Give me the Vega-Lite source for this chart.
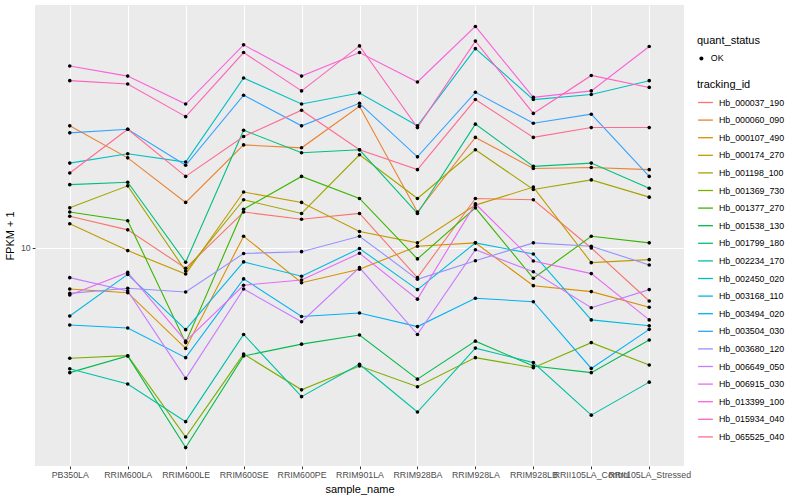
{
  "$schema": "https://vega.github.io/schema/vega-lite/v6.json",
  "width": 649,
  "height": 461,
  "autosize": {"type": "none"},
  "padding": {"left": 35, "top": 5, "right": 116, "bottom": 34},
  "background": "white",
  "data": {"values": [
    {"tracking_id":"Hb_000037_190","sample_name":"PB350LA","FPKM":12.0,"quant_status":"OK"},
    {"tracking_id":"Hb_000037_190","sample_name":"RRIM600LA","FPKM":11.1,"quant_status":"OK"},
    {"tracking_id":"Hb_000037_190","sample_name":"RRIM600LE","FPKM":8.90,"quant_status":"OK"},
    {"tracking_id":"Hb_000037_190","sample_name":"RRIM600SE","FPKM":12.3,"quant_status":"OK"},
    {"tracking_id":"Hb_000037_190","sample_name":"RRIM600PE","FPKM":11.8,"quant_status":"OK"},
    {"tracking_id":"Hb_000037_190","sample_name":"RRIM901LA","FPKM":12.2,"quant_status":"OK"},
    {"tracking_id":"Hb_000037_190","sample_name":"RRIM928BA","FPKM":8.43,"quant_status":"OK"},
    {"tracking_id":"Hb_000037_190","sample_name":"RRIM928LA","FPKM":13.3,"quant_status":"OK"},
    {"tracking_id":"Hb_000037_190","sample_name":"RRIM928LB","FPKM":13.2,"quant_status":"OK"},
    {"tracking_id":"Hb_000037_190","sample_name":"RRII105LA_Control","FPKM":10.0,"quant_status":"OK"},
    {"tracking_id":"Hb_000037_190","sample_name":"RRII105LA_Stressed","FPKM":7.37,"quant_status":"OK"},
    {"tracking_id":"Hb_000060_090","sample_name":"PB350LA","FPKM":20.2,"quant_status":"OK"},
    {"tracking_id":"Hb_000060_090","sample_name":"RRIM600LA","FPKM":16.8,"quant_status":"OK"},
    {"tracking_id":"Hb_000060_090","sample_name":"RRIM600LE","FPKM":13.0,"quant_status":"OK"},
    {"tracking_id":"Hb_000060_090","sample_name":"RRIM600SE","FPKM":18.1,"quant_status":"OK"},
    {"tracking_id":"Hb_000060_090","sample_name":"RRIM600PE","FPKM":17.8,"quant_status":"OK"},
    {"tracking_id":"Hb_000060_090","sample_name":"RRIM901LA","FPKM":22.6,"quant_status":"OK"},
    {"tracking_id":"Hb_000060_090","sample_name":"RRIM928BA","FPKM":12.3,"quant_status":"OK"},
    {"tracking_id":"Hb_000060_090","sample_name":"RRIM928LA","FPKM":18.9,"quant_status":"OK"},
    {"tracking_id":"Hb_000060_090","sample_name":"RRIM928LB","FPKM":15.8,"quant_status":"OK"},
    {"tracking_id":"Hb_000060_090","sample_name":"RRII105LA_Control","FPKM":15.9,"quant_status":"OK"},
    {"tracking_id":"Hb_000060_090","sample_name":"RRII105LA_Stressed","FPKM":15.7,"quant_status":"OK"},
    {"tracking_id":"Hb_000107_490","sample_name":"PB350LA","FPKM":7.90,"quant_status":"OK"},
    {"tracking_id":"Hb_000107_490","sample_name":"RRIM600LA","FPKM":7.73,"quant_status":"OK"},
    {"tracking_id":"Hb_000107_490","sample_name":"RRIM600LE","FPKM":5.61,"quant_status":"OK"},
    {"tracking_id":"Hb_000107_490","sample_name":"RRIM600SE","FPKM":10.7,"quant_status":"OK"},
    {"tracking_id":"Hb_000107_490","sample_name":"RRIM600PE","FPKM":8.19,"quant_status":"OK"},
    {"tracking_id":"Hb_000107_490","sample_name":"RRIM901LA","FPKM":8.85,"quant_status":"OK"},
    {"tracking_id":"Hb_000107_490","sample_name":"RRIM928BA","FPKM":10.1,"quant_status":"OK"},
    {"tracking_id":"Hb_000107_490","sample_name":"RRIM928LA","FPKM":10.3,"quant_status":"OK"},
    {"tracking_id":"Hb_000107_490","sample_name":"RRIM928LB","FPKM":8.05,"quant_status":"OK"},
    {"tracking_id":"Hb_000107_490","sample_name":"RRII105LA_Control","FPKM":7.78,"quant_status":"OK"},
    {"tracking_id":"Hb_000107_490","sample_name":"RRII105LA_Stressed","FPKM":7.11,"quant_status":"OK"},
    {"tracking_id":"Hb_000174_270","sample_name":"PB350LA","FPKM":11.5,"quant_status":"OK"},
    {"tracking_id":"Hb_000174_270","sample_name":"RRIM600LA","FPKM":9.85,"quant_status":"OK"},
    {"tracking_id":"Hb_000174_270","sample_name":"RRIM600LE","FPKM":8.61,"quant_status":"OK"},
    {"tracking_id":"Hb_000174_270","sample_name":"RRIM600SE","FPKM":13.8,"quant_status":"OK"},
    {"tracking_id":"Hb_000174_270","sample_name":"RRIM600PE","FPKM":13.0,"quant_status":"OK"},
    {"tracking_id":"Hb_000174_270","sample_name":"RRIM901LA","FPKM":11.0,"quant_status":"OK"},
    {"tracking_id":"Hb_000174_270","sample_name":"RRIM928BA","FPKM":10.3,"quant_status":"OK"},
    {"tracking_id":"Hb_000174_270","sample_name":"RRIM928LA","FPKM":12.8,"quant_status":"OK"},
    {"tracking_id":"Hb_000174_270","sample_name":"RRIM928LB","FPKM":14.2,"quant_status":"OK"},
    {"tracking_id":"Hb_000174_270","sample_name":"RRII105LA_Control","FPKM":9.19,"quant_status":"OK"},
    {"tracking_id":"Hb_000174_270","sample_name":"RRII105LA_Stressed","FPKM":9.35,"quant_status":"OK"},
    {"tracking_id":"Hb_001198_100","sample_name":"PB350LA","FPKM":12.6,"quant_status":"OK"},
    {"tracking_id":"Hb_001198_100","sample_name":"RRIM600LA","FPKM":14.3,"quant_status":"OK"},
    {"tracking_id":"Hb_001198_100","sample_name":"RRIM600LE","FPKM":8.76,"quant_status":"OK"},
    {"tracking_id":"Hb_001198_100","sample_name":"RRIM600SE","FPKM":13.2,"quant_status":"OK"},
    {"tracking_id":"Hb_001198_100","sample_name":"RRIM600PE","FPKM":12.2,"quant_status":"OK"},
    {"tracking_id":"Hb_001198_100","sample_name":"RRIM901LA","FPKM":17.1,"quant_status":"OK"},
    {"tracking_id":"Hb_001198_100","sample_name":"RRIM928BA","FPKM":13.3,"quant_status":"OK"},
    {"tracking_id":"Hb_001198_100","sample_name":"RRIM928LA","FPKM":17.6,"quant_status":"OK"},
    {"tracking_id":"Hb_001198_100","sample_name":"RRIM928LB","FPKM":14.0,"quant_status":"OK"},
    {"tracking_id":"Hb_001198_100","sample_name":"RRII105LA_Control","FPKM":14.8,"quant_status":"OK"},
    {"tracking_id":"Hb_001198_100","sample_name":"RRII105LA_Stressed","FPKM":13.4,"quant_status":"OK"},
    {"tracking_id":"Hb_001369_730","sample_name":"PB350LA","FPKM":5.30,"quant_status":"OK"},
    {"tracking_id":"Hb_001369_730","sample_name":"RRIM600LA","FPKM":5.38,"quant_status":"OK"},
    {"tracking_id":"Hb_001369_730","sample_name":"RRIM600LE","FPKM":3.37,"quant_status":"OK"},
    {"tracking_id":"Hb_001369_730","sample_name":"RRIM600SE","FPKM":5.43,"quant_status":"OK"},
    {"tracking_id":"Hb_001369_730","sample_name":"RRIM600PE","FPKM":4.42,"quant_status":"OK"},
    {"tracking_id":"Hb_001369_730","sample_name":"RRIM901LA","FPKM":5.07,"quant_status":"OK"},
    {"tracking_id":"Hb_001369_730","sample_name":"RRIM928BA","FPKM":4.50,"quant_status":"OK"},
    {"tracking_id":"Hb_001369_730","sample_name":"RRIM928LA","FPKM":5.32,"quant_status":"OK"},
    {"tracking_id":"Hb_001369_730","sample_name":"RRIM928LB","FPKM":5.02,"quant_status":"OK"},
    {"tracking_id":"Hb_001369_730","sample_name":"RRII105LA_Control","FPKM":5.80,"quant_status":"OK"},
    {"tracking_id":"Hb_001369_730","sample_name":"RRII105LA_Stressed","FPKM":5.10,"quant_status":"OK"},
    {"tracking_id":"Hb_001377_270","sample_name":"PB350LA","FPKM":12.3,"quant_status":"OK"},
    {"tracking_id":"Hb_001377_270","sample_name":"RRIM600LA","FPKM":11.7,"quant_status":"OK"},
    {"tracking_id":"Hb_001377_270","sample_name":"RRIM600LE","FPKM":5.80,"quant_status":"OK"},
    {"tracking_id":"Hb_001377_270","sample_name":"RRIM600SE","FPKM":12.5,"quant_status":"OK"},
    {"tracking_id":"Hb_001377_270","sample_name":"RRIM600PE","FPKM":15.1,"quant_status":"OK"},
    {"tracking_id":"Hb_001377_270","sample_name":"RRIM901LA","FPKM":13.3,"quant_status":"OK"},
    {"tracking_id":"Hb_001377_270","sample_name":"RRIM928BA","FPKM":9.39,"quant_status":"OK"},
    {"tracking_id":"Hb_001377_270","sample_name":"RRIM928LA","FPKM":12.6,"quant_status":"OK"},
    {"tracking_id":"Hb_001377_270","sample_name":"RRIM928LB","FPKM":8.40,"quant_status":"OK"},
    {"tracking_id":"Hb_001377_270","sample_name":"RRII105LA_Control","FPKM":10.7,"quant_status":"OK"},
    {"tracking_id":"Hb_001377_270","sample_name":"RRII105LA_Stressed","FPKM":10.3,"quant_status":"OK"},
    {"tracking_id":"Hb_001538_130","sample_name":"PB350LA","FPKM":4.88,"quant_status":"OK"},
    {"tracking_id":"Hb_001538_130","sample_name":"RRIM600LA","FPKM":5.37,"quant_status":"OK"},
    {"tracking_id":"Hb_001538_130","sample_name":"RRIM600LE","FPKM":3.17,"quant_status":"OK"},
    {"tracking_id":"Hb_001538_130","sample_name":"RRIM600SE","FPKM":5.37,"quant_status":"OK"},
    {"tracking_id":"Hb_001538_130","sample_name":"RRIM600PE","FPKM":5.75,"quant_status":"OK"},
    {"tracking_id":"Hb_001538_130","sample_name":"RRIM901LA","FPKM":6.06,"quant_status":"OK"},
    {"tracking_id":"Hb_001538_130","sample_name":"RRIM928BA","FPKM":4.70,"quant_status":"OK"},
    {"tracking_id":"Hb_001538_130","sample_name":"RRIM928LA","FPKM":5.85,"quant_status":"OK"},
    {"tracking_id":"Hb_001538_130","sample_name":"RRIM928LB","FPKM":5.07,"quant_status":"OK"},
    {"tracking_id":"Hb_001538_130","sample_name":"RRII105LA_Control","FPKM":4.88,"quant_status":"OK"},
    {"tracking_id":"Hb_001538_130","sample_name":"RRII105LA_Stressed","FPKM":5.89,"quant_status":"OK"},
    {"tracking_id":"Hb_001799_180","sample_name":"PB350LA","FPKM":14.4,"quant_status":"OK"},
    {"tracking_id":"Hb_001799_180","sample_name":"RRIM600LA","FPKM":14.6,"quant_status":"OK"},
    {"tracking_id":"Hb_001799_180","sample_name":"RRIM600LE","FPKM":9.21,"quant_status":"OK"},
    {"tracking_id":"Hb_001799_180","sample_name":"RRIM600SE","FPKM":19.7,"quant_status":"OK"},
    {"tracking_id":"Hb_001799_180","sample_name":"RRIM600PE","FPKM":17.3,"quant_status":"OK"},
    {"tracking_id":"Hb_001799_180","sample_name":"RRIM901LA","FPKM":17.6,"quant_status":"OK"},
    {"tracking_id":"Hb_001799_180","sample_name":"RRIM928BA","FPKM":12.2,"quant_status":"OK"},
    {"tracking_id":"Hb_001799_180","sample_name":"RRIM928LA","FPKM":20.4,"quant_status":"OK"},
    {"tracking_id":"Hb_001799_180","sample_name":"RRIM928LB","FPKM":16.0,"quant_status":"OK"},
    {"tracking_id":"Hb_001799_180","sample_name":"RRII105LA_Control","FPKM":16.3,"quant_status":"OK"},
    {"tracking_id":"Hb_001799_180","sample_name":"RRII105LA_Stressed","FPKM":14.1,"quant_status":"OK"},
    {"tracking_id":"Hb_002234_170","sample_name":"PB350LA","FPKM":4.99,"quant_status":"OK"},
    {"tracking_id":"Hb_002234_170","sample_name":"RRIM600LA","FPKM":4.57,"quant_status":"OK"},
    {"tracking_id":"Hb_002234_170","sample_name":"RRIM600LE","FPKM":3.68,"quant_status":"OK"},
    {"tracking_id":"Hb_002234_170","sample_name":"RRIM600SE","FPKM":6.08,"quant_status":"OK"},
    {"tracking_id":"Hb_002234_170","sample_name":"RRIM600PE","FPKM":4.25,"quant_status":"OK"},
    {"tracking_id":"Hb_002234_170","sample_name":"RRIM901LA","FPKM":5.12,"quant_status":"OK"},
    {"tracking_id":"Hb_002234_170","sample_name":"RRIM928BA","FPKM":3.89,"quant_status":"OK"},
    {"tracking_id":"Hb_002234_170","sample_name":"RRIM928LA","FPKM":5.62,"quant_status":"OK"},
    {"tracking_id":"Hb_002234_170","sample_name":"RRIM928LB","FPKM":5.17,"quant_status":"OK"},
    {"tracking_id":"Hb_002234_170","sample_name":"RRII105LA_Control","FPKM":3.82,"quant_status":"OK"},
    {"tracking_id":"Hb_002234_170","sample_name":"RRII105LA_Stressed","FPKM":4.62,"quant_status":"OK"},
    {"tracking_id":"Hb_002450_020","sample_name":"PB350LA","FPKM":16.3,"quant_status":"OK"},
    {"tracking_id":"Hb_002450_020","sample_name":"RRIM600LA","FPKM":17.2,"quant_status":"OK"},
    {"tracking_id":"Hb_002450_020","sample_name":"RRIM600LE","FPKM":16.4,"quant_status":"OK"},
    {"tracking_id":"Hb_002450_020","sample_name":"RRIM600SE","FPKM":26.6,"quant_status":"OK"},
    {"tracking_id":"Hb_002450_020","sample_name":"RRIM600PE","FPKM":22.9,"quant_status":"OK"},
    {"tracking_id":"Hb_002450_020","sample_name":"RRIM901LA","FPKM":24.4,"quant_status":"OK"},
    {"tracking_id":"Hb_002450_020","sample_name":"RRIM928BA","FPKM":20.2,"quant_status":"OK"},
    {"tracking_id":"Hb_002450_020","sample_name":"RRIM928LA","FPKM":31.5,"quant_status":"OK"},
    {"tracking_id":"Hb_002450_020","sample_name":"RRIM928LB","FPKM":23.5,"quant_status":"OK"},
    {"tracking_id":"Hb_002450_020","sample_name":"RRII105LA_Control","FPKM":24.2,"quant_status":"OK"},
    {"tracking_id":"Hb_002450_020","sample_name":"RRII105LA_Stressed","FPKM":26.2,"quant_status":"OK"},
    {"tracking_id":"Hb_003168_110","sample_name":"PB350LA","FPKM":6.76,"quant_status":"OK"},
    {"tracking_id":"Hb_003168_110","sample_name":"RRIM600LA","FPKM":8.59,"quant_status":"OK"},
    {"tracking_id":"Hb_003168_110","sample_name":"RRIM600LE","FPKM":6.25,"quant_status":"OK"},
    {"tracking_id":"Hb_003168_110","sample_name":"RRIM600SE","FPKM":9.23,"quant_status":"OK"},
    {"tracking_id":"Hb_003168_110","sample_name":"RRIM600PE","FPKM":8.50,"quant_status":"OK"},
    {"tracking_id":"Hb_003168_110","sample_name":"RRIM901LA","FPKM":9.97,"quant_status":"OK"},
    {"tracking_id":"Hb_003168_110","sample_name":"RRIM928BA","FPKM":7.87,"quant_status":"OK"},
    {"tracking_id":"Hb_003168_110","sample_name":"RRIM928LA","FPKM":10.3,"quant_status":"OK"},
    {"tracking_id":"Hb_003168_110","sample_name":"RRIM928LB","FPKM":9.66,"quant_status":"OK"},
    {"tracking_id":"Hb_003168_110","sample_name":"RRII105LA_Control","FPKM":6.61,"quant_status":"OK"},
    {"tracking_id":"Hb_003168_110","sample_name":"RRII105LA_Stressed","FPKM":6.39,"quant_status":"OK"},
    {"tracking_id":"Hb_003494_020","sample_name":"PB350LA","FPKM":6.42,"quant_status":"OK"},
    {"tracking_id":"Hb_003494_020","sample_name":"RRIM600LA","FPKM":6.31,"quant_status":"OK"},
    {"tracking_id":"Hb_003494_020","sample_name":"RRIM600LE","FPKM":5.32,"quant_status":"OK"},
    {"tracking_id":"Hb_003494_020","sample_name":"RRIM600SE","FPKM":8.37,"quant_status":"OK"},
    {"tracking_id":"Hb_003494_020","sample_name":"RRIM600PE","FPKM":6.74,"quant_status":"OK"},
    {"tracking_id":"Hb_003494_020","sample_name":"RRIM901LA","FPKM":6.88,"quant_status":"OK"},
    {"tracking_id":"Hb_003494_020","sample_name":"RRIM928BA","FPKM":6.36,"quant_status":"OK"},
    {"tracking_id":"Hb_003494_020","sample_name":"RRIM928LA","FPKM":7.49,"quant_status":"OK"},
    {"tracking_id":"Hb_003494_020","sample_name":"RRIM928LB","FPKM":7.34,"quant_status":"OK"},
    {"tracking_id":"Hb_003494_020","sample_name":"RRII105LA_Control","FPKM":5.00,"quant_status":"OK"},
    {"tracking_id":"Hb_003494_020","sample_name":"RRII105LA_Stressed","FPKM":6.26,"quant_status":"OK"},
    {"tracking_id":"Hb_003504_030","sample_name":"PB350LA","FPKM":19.4,"quant_status":"OK"},
    {"tracking_id":"Hb_003504_030","sample_name":"RRIM600LA","FPKM":19.8,"quant_status":"OK"},
    {"tracking_id":"Hb_003504_030","sample_name":"RRIM600LE","FPKM":16.1,"quant_status":"OK"},
    {"tracking_id":"Hb_003504_030","sample_name":"RRIM600SE","FPKM":24.1,"quant_status":"OK"},
    {"tracking_id":"Hb_003504_030","sample_name":"RRIM600PE","FPKM":20.2,"quant_status":"OK"},
    {"tracking_id":"Hb_003504_030","sample_name":"RRIM901LA","FPKM":23.0,"quant_status":"OK"},
    {"tracking_id":"Hb_003504_030","sample_name":"RRIM928BA","FPKM":16.9,"quant_status":"OK"},
    {"tracking_id":"Hb_003504_030","sample_name":"RRIM928LA","FPKM":24.5,"quant_status":"OK"},
    {"tracking_id":"Hb_003504_030","sample_name":"RRIM928LB","FPKM":20.5,"quant_status":"OK"},
    {"tracking_id":"Hb_003504_030","sample_name":"RRII105LA_Control","FPKM":21.6,"quant_status":"OK"},
    {"tracking_id":"Hb_003504_030","sample_name":"RRII105LA_Stressed","FPKM":15.1,"quant_status":"OK"},
    {"tracking_id":"Hb_003680_120","sample_name":"PB350LA","FPKM":7.70,"quant_status":"OK"},
    {"tracking_id":"Hb_003680_120","sample_name":"RRIM600LA","FPKM":7.93,"quant_status":"OK"},
    {"tracking_id":"Hb_003680_120","sample_name":"RRIM600LE","FPKM":7.76,"quant_status":"OK"},
    {"tracking_id":"Hb_003680_120","sample_name":"RRIM600SE","FPKM":9.69,"quant_status":"OK"},
    {"tracking_id":"Hb_003680_120","sample_name":"RRIM600PE","FPKM":9.79,"quant_status":"OK"},
    {"tracking_id":"Hb_003680_120","sample_name":"RRIM901LA","FPKM":10.7,"quant_status":"OK"},
    {"tracking_id":"Hb_003680_120","sample_name":"RRIM928BA","FPKM":8.35,"quant_status":"OK"},
    {"tracking_id":"Hb_003680_120","sample_name":"RRIM928LA","FPKM":9.29,"quant_status":"OK"},
    {"tracking_id":"Hb_003680_120","sample_name":"RRIM928LB","FPKM":10.3,"quant_status":"OK"},
    {"tracking_id":"Hb_003680_120","sample_name":"RRII105LA_Control","FPKM":10.1,"quant_status":"OK"},
    {"tracking_id":"Hb_003680_120","sample_name":"RRII105LA_Stressed","FPKM":9.07,"quant_status":"OK"},
    {"tracking_id":"Hb_006649_050","sample_name":"PB350LA","FPKM":8.43,"quant_status":"OK"},
    {"tracking_id":"Hb_006649_050","sample_name":"RRIM600LA","FPKM":7.81,"quant_status":"OK"},
    {"tracking_id":"Hb_006649_050","sample_name":"RRIM600LE","FPKM":4.72,"quant_status":"OK"},
    {"tracking_id":"Hb_006649_050","sample_name":"RRIM600SE","FPKM":7.90,"quant_status":"OK"},
    {"tracking_id":"Hb_006649_050","sample_name":"RRIM600PE","FPKM":6.54,"quant_status":"OK"},
    {"tracking_id":"Hb_006649_050","sample_name":"RRIM901LA","FPKM":8.93,"quant_status":"OK"},
    {"tracking_id":"Hb_006649_050","sample_name":"RRIM928BA","FPKM":6.08,"quant_status":"OK"},
    {"tracking_id":"Hb_006649_050","sample_name":"RRIM928LA","FPKM":9.90,"quant_status":"OK"},
    {"tracking_id":"Hb_006649_050","sample_name":"RRIM928LB","FPKM":8.72,"quant_status":"OK"},
    {"tracking_id":"Hb_006649_050","sample_name":"RRII105LA_Control","FPKM":7.09,"quant_status":"OK"},
    {"tracking_id":"Hb_006649_050","sample_name":"RRII105LA_Stressed","FPKM":7.87,"quant_status":"OK"},
    {"tracking_id":"Hb_006915_030","sample_name":"PB350LA","FPKM":7.63,"quant_status":"OK"},
    {"tracking_id":"Hb_006915_030","sample_name":"RRIM600LA","FPKM":8.69,"quant_status":"OK"},
    {"tracking_id":"Hb_006915_030","sample_name":"RRIM600LE","FPKM":5.85,"quant_status":"OK"},
    {"tracking_id":"Hb_006915_030","sample_name":"RRIM600SE","FPKM":8.07,"quant_status":"OK"},
    {"tracking_id":"Hb_006915_030","sample_name":"RRIM600PE","FPKM":8.32,"quant_status":"OK"},
    {"tracking_id":"Hb_006915_030","sample_name":"RRIM901LA","FPKM":9.70,"quant_status":"OK"},
    {"tracking_id":"Hb_006915_030","sample_name":"RRIM928BA","FPKM":7.45,"quant_status":"OK"},
    {"tracking_id":"Hb_006915_030","sample_name":"RRIM928LA","FPKM":12.9,"quant_status":"OK"},
    {"tracking_id":"Hb_006915_030","sample_name":"RRIM928LB","FPKM":9.28,"quant_status":"OK"},
    {"tracking_id":"Hb_006915_030","sample_name":"RRII105LA_Control","FPKM":8.63,"quant_status":"OK"},
    {"tracking_id":"Hb_006915_030","sample_name":"RRII105LA_Stressed","FPKM":6.61,"quant_status":"OK"},
    {"tracking_id":"Hb_013399_100","sample_name":"PB350LA","FPKM":28.5,"quant_status":"OK"},
    {"tracking_id":"Hb_013399_100","sample_name":"RRIM600LA","FPKM":26.9,"quant_status":"OK"},
    {"tracking_id":"Hb_013399_100","sample_name":"RRIM600LE","FPKM":22.9,"quant_status":"OK"},
    {"tracking_id":"Hb_013399_100","sample_name":"RRIM600SE","FPKM":32.2,"quant_status":"OK"},
    {"tracking_id":"Hb_013399_100","sample_name":"RRIM600PE","FPKM":26.9,"quant_status":"OK"},
    {"tracking_id":"Hb_013399_100","sample_name":"RRIM901LA","FPKM":30.8,"quant_status":"OK"},
    {"tracking_id":"Hb_013399_100","sample_name":"RRIM928BA","FPKM":26.0,"quant_status":"OK"},
    {"tracking_id":"Hb_013399_100","sample_name":"RRIM928LA","FPKM":35.8,"quant_status":"OK"},
    {"tracking_id":"Hb_013399_100","sample_name":"RRIM928LB","FPKM":23.8,"quant_status":"OK"},
    {"tracking_id":"Hb_013399_100","sample_name":"RRII105LA_Control","FPKM":24.7,"quant_status":"OK"},
    {"tracking_id":"Hb_013399_100","sample_name":"RRII105LA_Stressed","FPKM":31.9,"quant_status":"OK"},
    {"tracking_id":"Hb_015934_040","sample_name":"PB350LA","FPKM":26.2,"quant_status":"OK"},
    {"tracking_id":"Hb_015934_040","sample_name":"RRIM600LA","FPKM":25.7,"quant_status":"OK"},
    {"tracking_id":"Hb_015934_040","sample_name":"RRIM600LE","FPKM":21.3,"quant_status":"OK"},
    {"tracking_id":"Hb_015934_040","sample_name":"RRIM600SE","FPKM":30.8,"quant_status":"OK"},
    {"tracking_id":"Hb_015934_040","sample_name":"RRIM600PE","FPKM":24.7,"quant_status":"OK"},
    {"tracking_id":"Hb_015934_040","sample_name":"RRIM901LA","FPKM":32.0,"quant_status":"OK"},
    {"tracking_id":"Hb_015934_040","sample_name":"RRIM928BA","FPKM":20.0,"quant_status":"OK"},
    {"tracking_id":"Hb_015934_040","sample_name":"RRIM928LA","FPKM":32.9,"quant_status":"OK"},
    {"tracking_id":"Hb_015934_040","sample_name":"RRIM928LB","FPKM":21.7,"quant_status":"OK"},
    {"tracking_id":"Hb_015934_040","sample_name":"RRII105LA_Control","FPKM":27.0,"quant_status":"OK"},
    {"tracking_id":"Hb_015934_040","sample_name":"RRII105LA_Stressed","FPKM":25.2,"quant_status":"OK"},
    {"tracking_id":"Hb_065525_040","sample_name":"PB350LA","FPKM":15.4,"quant_status":"OK"},
    {"tracking_id":"Hb_065525_040","sample_name":"RRIM600LA","FPKM":19.8,"quant_status":"OK"},
    {"tracking_id":"Hb_065525_040","sample_name":"RRIM600LE","FPKM":15.1,"quant_status":"OK"},
    {"tracking_id":"Hb_065525_040","sample_name":"RRIM600SE","FPKM":19.0,"quant_status":"OK"},
    {"tracking_id":"Hb_065525_040","sample_name":"RRIM600PE","FPKM":22.1,"quant_status":"OK"},
    {"tracking_id":"Hb_065525_040","sample_name":"RRIM901LA","FPKM":17.6,"quant_status":"OK"},
    {"tracking_id":"Hb_065525_040","sample_name":"RRIM928BA","FPKM":15.7,"quant_status":"OK"},
    {"tracking_id":"Hb_065525_040","sample_name":"RRIM928LA","FPKM":23.5,"quant_status":"OK"},
    {"tracking_id":"Hb_065525_040","sample_name":"RRIM928LB","FPKM":18.9,"quant_status":"OK"},
    {"tracking_id":"Hb_065525_040","sample_name":"RRII105LA_Control","FPKM":20.0,"quant_status":"OK"},
    {"tracking_id":"Hb_065525_040","sample_name":"RRII105LA_Stressed","FPKM":20.0,"quant_status":"OK"}
  ]},
  "encoding": {
    "x": {
      "field": "sample_name", "type": "nominal",
      "sort": ["PB350LA","RRIM600LA","RRIM600LE","RRIM600SE","RRIM600PE","RRIM901LA","RRIM928BA","RRIM928LA","RRIM928LB","RRII105LA_Control","RRII105LA_Stressed"],
      "scale": {"type": "point", "padding": 0.6},
      "axis": {"title": "sample_name", "labelAngle": 0, "labelOverlap": false, "labelPadding": 2, "titlePadding": 4}
    },
    "y": {
      "field": "FPKM", "type": "quantitative",
      "scale": {"type": "log", "domain": [2.851, 40.5], "nice": false, "zero": false},
      "axis": {"title": "FPKM + 1", "values": [10], "format": "d", "labelPadding": 2, "titlePadding": 5}
    }
  },
  "layer": [
    {
      "mark": {"type": "line", "strokeWidth": 1.1},
      "encoding": {
        "color": {
          "field": "tracking_id", "type": "nominal",
          "scale": {
            "domain": ["Hb_000037_190","Hb_000060_090","Hb_000107_490","Hb_000174_270","Hb_001198_100","Hb_001369_730","Hb_001377_270","Hb_001538_130","Hb_001799_180","Hb_002234_170","Hb_002450_020","Hb_003168_110","Hb_003494_020","Hb_003504_030","Hb_003680_120","Hb_006649_050","Hb_006915_030","Hb_013399_100","Hb_015934_040","Hb_065525_040"],
            "range": ["#F8766D","#EA8331","#D89000","#C09B00","#A3A500","#7CAE00","#39B600","#00BB4E","#00BF7D","#00C1A3","#00BFC4","#00BAE0","#00B0F6","#35A2FF","#9590FF","#C77CFF","#E76BF3","#FA62DB","#FF62BC","#FF6C91"]
          },
          "legend": {"title": "tracking_id", "orient": "none", "legendX": 662, "legendY": 74, "symbolType": "stroke", "symbolStrokeWidth": 1.3, "symbolSize": 220, "rowPadding": 3.6, "titlePadding": 4}
        }
      }
    },
    {
      "mark": {"type": "point", "filled": true, "color": "black", "opacity": 1, "size": 13},
      "encoding": {
        "shape": {
          "field": "quant_status", "type": "nominal",
          "scale": {"range": ["circle"]},
          "legend": {"title": "quant_status", "orient": "none", "legendX": 662, "legendY": 30, "symbolSize": 16, "symbolFillColor": "black", "symbolStrokeColor": "black", "titlePadding": 8}
        }
      }
    }
  ],
  "config": {
    "font": "Liberation Sans",
    "view": {"fill": "#EBEBEB", "stroke": null},
    "axis": {
      "domain": false,
      "grid": true,
      "gridColor": "#FFFFFF",
      "gridWidth": 1.1,
      "tickColor": "#333333",
      "tickSize": 2.75,
      "labelColor": "#4D4D4D",
      "labelFontSize": 8.8,
      "titleFontSize": 11,
      "titleFontWeight": "normal",
      "titleColor": "#000000"
    },
    "legend": {
      "titleFontSize": 11,
      "titleFontWeight": "normal",
      "titleColor": "#000000",
      "labelFontSize": 8.8,
      "labelColor": "#000000",
      "labelOffset": 5
    }
  }
}
